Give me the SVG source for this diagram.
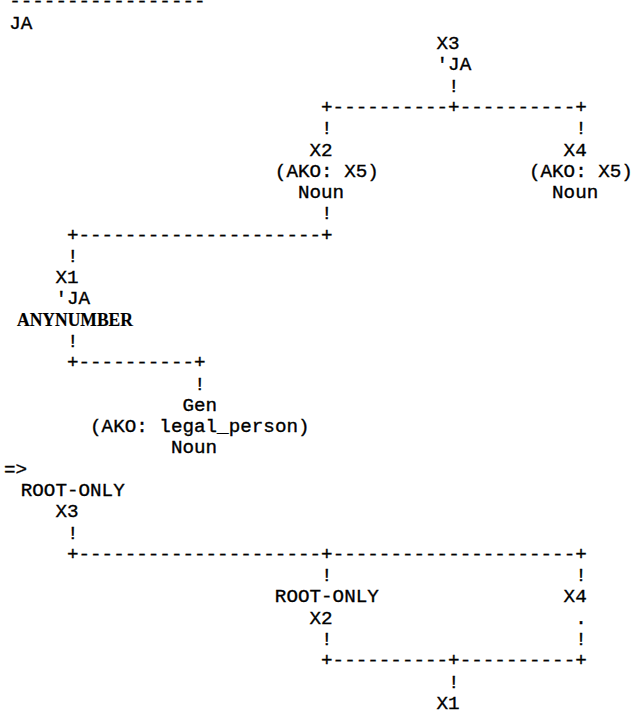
<svg xmlns="http://www.w3.org/2000/svg" width="636" height="711" viewBox="0 0 636 711">
<style>
text{font-family:"Liberation Mono","DejaVu Sans Mono",monospace;font-size:19.25px;fill:#000;stroke:#000;stroke-width:0.35}
.b{font-family:"Liberation Serif","DejaVu Serif",serif;font-weight:bold;font-size:18px;stroke-width:0.2}
</style>
<rect width="636" height="711" fill="#fff"/>
<g id="header">
<text x="9.2" y="7">-----------------</text>
<text x="9.2" y="28.5">JA</text>
</g>
<g id="node-x3-top">
<text x="436.55" y="49.1">X3</text>
<text x="436.55" y="70.3">'JA</text>
</g>
<g id="node-x2-top">
<text x="309.5" y="155.5">X2</text>
<text x="274.85" y="176.7">(AKO: X5)</text>
<text x="297.95" y="198">Noun</text>
</g>
<g id="node-x4-top">
<text x="563.6" y="155.5">X4</text>
<text x="528.95" y="176.7">(AKO: X5)</text>
<text x="552.05" y="198">Noun</text>
</g>
<g id="node-x1-top">
<text x="55.4" y="283.1">X1</text>
<text x="55.4" y="304.4">'JA</text>
<text class="b" x="17" y="325.7" textLength="116" lengthAdjust="spacingAndGlyphs">ANYNUMBER</text>
</g>
<g id="node-gen">
<text x="182.45" y="410.8">Gen</text>
<text x="90.05" y="432.1">(AKO: legal_person)</text>
<text x="170.9" y="453.4">Noun</text>
</g>
<g id="arrow">
<text x="4" y="474.7">=&gt;</text>
</g>
<g id="node-x3-root">
<text x="20.75" y="495.9">ROOT-ONLY</text>
<text x="55.4" y="517.2">X3</text>
</g>
<g id="node-x2-root">
<text x="274.85" y="602.3">ROOT-ONLY</text>
<text x="309.5" y="623.6">X2</text>
</g>
<g id="node-x4-bottom">
<text x="563.6" y="602.3">X4</text>
</g>
<g id="node-x1-bottom">
<text x="436.55" y="708.7">X1</text>
</g>
<g id="connectors">
<text x="448.1" y="91.6">!</text>
<text x="321.05" y="112.9">+----------+----------+</text>
<text x="321.05" y="134.2">!</text>
<text x="575.15" y="134.2">!</text>
<text x="321.05" y="219.3">!</text>
<text x="66.95" y="240.6">+---------------------+</text>
<text x="66.95" y="261.9">!</text>
<text x="66.95" y="347">!</text>
<text x="66.95" y="368.3">+----------+</text>
<text x="194" y="389.5">!</text>
<text x="66.95" y="538.5">!</text>
<text x="66.95" y="559.8">+---------------------+---------------------+</text>
<text x="321.05" y="581.1">!</text>
<text x="575.15" y="581.1">!</text>
<text x="575.15" y="623.6">.</text>
<text x="321.05" y="644.9">!</text>
<text x="575.15" y="644.9">!</text>
<text x="321.05" y="666.2">+----------+----------+</text>
<text x="448.1" y="687.5">!</text>
</g>
</svg>
